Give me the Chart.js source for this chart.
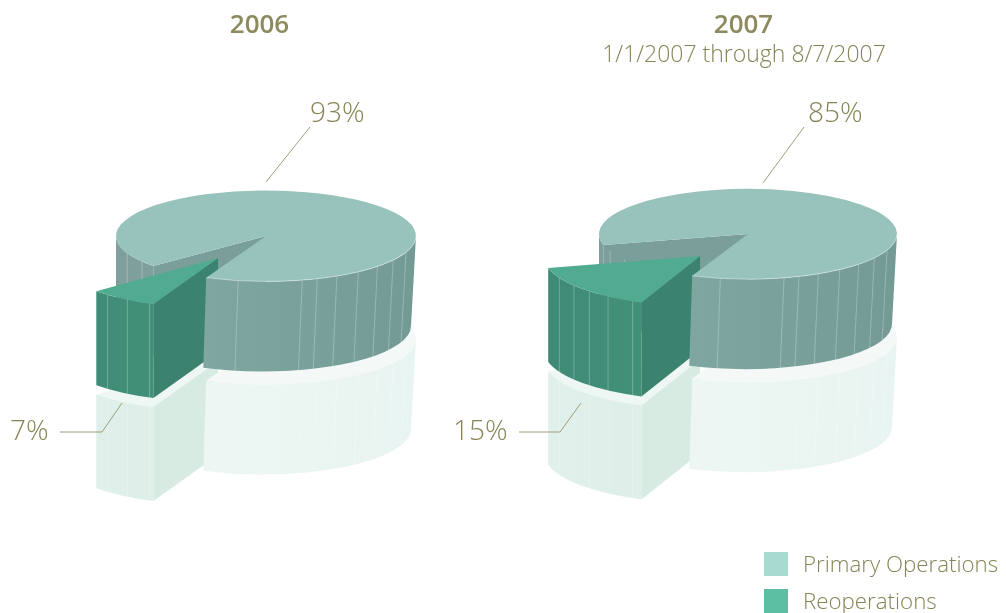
<!DOCTYPE html>
<html>
<head>
<meta charset="utf-8">
<script src="https://cdn.jsdelivr.net/npm/chart.js@4"></script>
<style>
html,body{margin:0;padding:0;background:#fff;overflow:hidden}
#page{position:relative;width:1006px;height:613px;overflow:hidden;font-family:"Open Sans","Noto Sans",sans-serif;color:#868355}
canvas{position:absolute;top:0}
.t{position:absolute;white-space:nowrap;line-height:1;font-weight:300}
.c{transform:translateX(-50%)}
.b{font-weight:600;color:#8c8a5e}
.sw{position:absolute;width:24px;height:24px}
</style>
</head>
<body>
<div id="page">
<canvas id="c2006" width="503" height="613" style="left:0"></canvas>
<canvas id="c2007" width="503" height="613" style="left:503px"></canvas>
</div>
<script>
const categories = ["Primary Operations", "Reoperations"];
const values2006 = [93, 7];
const values2007 = [85, 15];
const years = ["2006", "2007"];
const subtitle2007 = "1/1/2007 through 8/7/2007";
const legendColors = ["#a8dad2", "#5cbfa3"];

const RAD = Math.PI / 180;
const K = 0.303;
const DEPTH = 90, SLICE_DEPTH = 94, MIRROR = 103;
const MAIN_FACETS_FRONT = [100.7, 76, 70, 61.8, 52, 42, 32, 21];
const MAIN_FACETS_BACK = [157.7, 145.8];

function wall(ctx, g, a0, a1, fill) {
  ctx.beginPath();
  ctx.ellipse(g.x, g.y, g.rx, g.ry, 0, a0, a1);
  ctx.ellipse(g.x + g.dx, g.y + g.depth, g.rx * g.sx, g.ry, 0, a1, a0, true);
  ctx.closePath();
  ctx.fillStyle = fill;
  ctx.fill();
}
function facets(ctx, g, angles, style) {
  ctx.strokeStyle = style;
  ctx.lineWidth = 1;
  angles.forEach(d => {
    const a = d * RAD;
    ctx.beginPath();
    ctx.moveTo(g.x + g.rx * Math.cos(a), g.y + g.ry * Math.sin(a));
    ctx.lineTo(g.x + g.dx + g.rx * g.sx * Math.cos(a), g.y + g.depth + g.ry * Math.sin(a));
    ctx.stroke();
  });
}
function radial(ctx, g, a, fill) {
  const ex = g.rx * Math.cos(a), ey = g.ry * Math.sin(a);
  ctx.beginPath();
  ctx.moveTo(g.x, g.y);
  ctx.lineTo(g.x + ex, g.y + ey);
  ctx.lineTo(g.x + g.dx + ex * g.sx, g.y + g.depth + ey);
  ctx.lineTo(g.x + g.dx, g.y + g.depth);
  ctx.closePath();
  ctx.fillStyle = fill;
  ctx.fill();
}
function sector(ctx, g, a0, a1, fill) {
  ctx.beginPath();
  ctx.moveTo(g.x, g.y);
  ctx.ellipse(g.x, g.y, g.rx, g.ry, 0, a0, a1);
  ctx.closePath();
  ctx.fillStyle = fill;
  ctx.fill();
}
function hGrad(ctx, x0, x1, c0, c1) {
  const gr = ctx.createLinearGradient(x0, 0, x1, 0);
  gr.addColorStop(0, c0);
  gr.addColorStop(1, c1);
  return gr;
}

function pie3d(cfg) {
  return {
    id: "pie3d",
    beforeDatasetDraw(chart, args) {
      const ctx = chart.ctx;
      const [mainArc, sliceArc] = args.meta.data;
      const R = mainArc.outerRadius;
      const main = { x: mainArc.x, y: mainArc.y, rx: R, ry: R * K, depth: DEPTH, dx: -3.5, sx: 0.99 };
      const back = { ...main, dx: 0, sx: 1 };
      const sl = {
        x: mainArc.x + cfg.explodeX, y: mainArc.y + cfg.explodeY,
        rx: R * cfg.sliceScale, ry: R * cfg.sliceScale * cfg.sliceK, depth: SLICE_DEPTH, dx: 0, sx: 1
      };
      const mainRef = { ...main, y: main.y + MIRROR };
      const slRef = { ...sl, y: sl.y + MIRROR };
      const S = mainArc.startAngle, E = mainArc.endAngle;
      const s0 = sliceArc.startAngle, s1 = sliceArc.endAngle;
      const TAU = Math.PI * 2;

      // mirrored slice
      sector(ctx, slRef, s0, s1, "#eff7f4");
      radial(ctx, slRef, s0, "#d8ebe3");
      wall(ctx, slRef, s0, s1, hGrad(ctx, sl.x - sl.rx, sl.x, "#e0f0ea", "#dceee8"));
      facets(ctx, slRef, cfg.sliceFacets, "rgba(255,255,255,.22)");

      // mirrored main body
      sector(ctx, mainRef, S, E, "#f4f9f8");
      wall(ctx, mainRef, TAU, E, hGrad(ctx, main.x - 60, main.x + main.rx, "#edf6f3", "#e8f4f1"));
      facets(ctx, mainRef, MAIN_FACETS_FRONT, "rgba(255,255,255,.2)");

      // back of the notch
      radial(ctx, back, S, "#7a9e99");
      wall(ctx, back, S, Math.PI, "#7e9f9b");
      facets(ctx, back, MAIN_FACETS_BACK, "rgba(255,255,255,.28)");

      // exploded slice
      radial(ctx, sl, s0, "#3b836f");
      wall(ctx, sl, s0, s1, hGrad(ctx, sl.x - sl.rx, sl.x - sl.rx * 0.4, "#3e8a76", "#439079"));
      facets(ctx, sl, cfg.sliceFacets, "rgba(255,255,255,.26)");
      ctx.save();
      ctx.translate(sl.x, sl.y);
      ctx.scale(cfg.sliceScale, cfg.sliceScale * cfg.sliceK);
      ctx.translate(-sliceArc.x, -sliceArc.y);
      sliceArc.draw(ctx);
      ctx.restore();

      // front of the main body and its top
      wall(ctx, main, TAU, E, hGrad(ctx, main.x - 60, main.x + main.rx, "#7fa6a0", "#749a95"));
      facets(ctx, main, MAIN_FACETS_FRONT, "rgba(255,255,255,.26)");
      ctx.save();
      ctx.translate(main.x, main.y);
      ctx.scale(1, K);
      ctx.translate(-mainArc.x, -mainArc.y);
      mainArc.draw(ctx);
      ctx.restore();
      ctx.beginPath();
      ctx.ellipse(main.x, main.y, main.rx, main.ry, 0, TAU, E);
      ctx.strokeStyle = "rgba(225,238,235,.7)";
      ctx.lineWidth = 0.8;
      ctx.stroke();

      // leader lines
      ctx.strokeStyle = "#a09d7c";
      ctx.lineWidth = 1;
      cfg.leaders.forEach(pts => {
        ctx.beginPath();
        pts.forEach((p, i) => i ? ctx.lineTo(p[0], p[1]) : ctx.moveTo(p[0], p[1]));
        ctx.stroke();
      });
      return false;
    }
  };
}

function makeChart(id, values, cfg) {
  return new Chart(document.getElementById(id), {
    type: "pie",
    data: {
      labels: categories,
      datasets: [{
        data: values,
        backgroundColor: ["#98c3bc", "#50ab90"],
        borderWidth: 0,
        radius: cfg.radius
      }]
    },
    options: {
      responsive: false,
      animation: false,
      rotation: cfg.rotation,
      layout: { padding: cfg.padding },
      plugins: { legend: { display: false }, tooltip: { enabled: false } }
    },
    plugins: [pie3d(cfg)]
  });
}

makeChart("c2006", values2006, {
  radius: 150, rotation: 228.7,
  padding: { left: 29, right: 0, top: 0, bottom: 141 },
  explodeX: -48, explodeY: 22, sliceScale: 1.08, sliceK: 0.31,
  sliceFacets: [133, 124, 115],
  leaders: [[[266, 182], [310, 127]], [[60, 432], [102, 432], [122, 403]]]
});
makeChart("c2007", values2007, {
  radius: 149, rotation: 256,
  padding: { left: 0, right: 13, top: 0, bottom: 145 },
  explodeX: -48, explodeY: 22, sliceScale: 1.05, sliceK: 0.32,
  sliceFacets: [154, 143.7, 135, 126, 115.5],
  leaders: [[[260, 183], [301, 127]], [[16, 432], [57, 432], [78, 403]]]
});

const page = document.getElementById("page");
function text(str, x, y, size, cls) {
  const d = document.createElement("div");
  d.className = "t " + (cls || "");
  d.textContent = str;
  d.style.left = x + "px";
  d.style.top = y + "px";
  d.style.fontSize = size + "px";
  page.appendChild(d);
}
text(years[0], 259.5, 10, 26, "c b");
text(years[1], 743.5, 10, 26, "c b");
text(subtitle2007, 744, 42, 23, "c");
text(values2006[0] + "%", 310, 97, 28);
text(values2006[1] + "%", 10, 415, 28);
text(values2007[0] + "%", 808, 97, 28);
text(values2007[1] + "%", 453, 415, 28);
categories.forEach((c, i) => {
  const s = document.createElement("div");
  s.className = "sw";
  s.style.left = "764px";
  s.style.top = (552 + i * 37) + "px";
  s.style.background = legendColors[i];
  page.appendChild(s);
  text(c, 803, 553 + i * 37, 22.3);
});
</script>
</body>
</html>
